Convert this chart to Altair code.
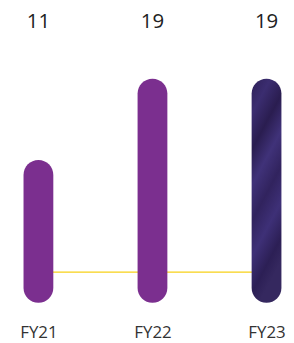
import altair as alt
import pandas as pd

categories = ["FY21", "FY22", "FY23"]
values = [11, 19, 19]
labels = ["11", "19", "19"]

df = pd.DataFrame({"year": categories, "value": values, "label": labels})

FONT = "Open Sans"

xscale = alt.Scale(type="point", padding=0.21, align=0.635)
x = alt.X("year:N", sort=categories, scale=xscale,
          axis=alt.Axis(title=None, domain=False, ticks=False, labelAngle=0,
                        labelFont=FONT, labelFontSize=17, labelColor="#333333",
                        labelPadding=22, grid=False))
yscale = alt.Scale(domain=[-3.05, 25.83], nice=False, zero=False)
y = alt.Y("value:Q", scale=yscale, axis=None)

base = alt.Chart(df).transform_calculate(zero="0")

rule = base.mark_line(color="#F7D117", strokeWidth=1.2).encode(
    x=x, y=alt.Y("zero:Q", scale=yscale, axis=None)
)

bars = base.transform_filter(alt.datum.year != "FY23").mark_bar(
    size=30, cornerRadius=15, color="#7B2F8F", y2Offset=31
).encode(x=x, y=y, y2="zero:Q")

glitter = base.transform_filter(alt.datum.year == "FY23").mark_bar(
    size=30, cornerRadius=15, y2Offset=31,
    fill=alt.LinearGradient(
        gradient="linear", x1=0, y1=0, x2=0.25, y2=1,
        stops=[
            alt.GradientStop(offset=0.0, color="#2E2058"),
            alt.GradientStop(offset=0.15, color="#3B2D70"),
            alt.GradientStop(offset=0.3, color="#2A1D50"),
            alt.GradientStop(offset=0.45, color="#403279"),
            alt.GradientStop(offset=0.6, color="#31235E"),
            alt.GradientStop(offset=0.75, color="#3E3077"),
            alt.GradientStop(offset=0.9, color="#2C1F55"),
            alt.GradientStop(offset=1.0, color="#35285F"),
        ],
    ),
).encode(x=x, y=y, y2="zero:Q")

text = base.mark_text(font=FONT, fontSize=20.5, color="#222222", baseline="middle").encode(
    x=x, y=alt.value(13), text="label:N"
)

chart = alt.layer(rule, bars, glitter, text).properties(
    width=278, height=296, padding=0
).configure_view(stroke=None)

chart.save("out.html", embed_options={"renderer": "svg", "actions": False})
